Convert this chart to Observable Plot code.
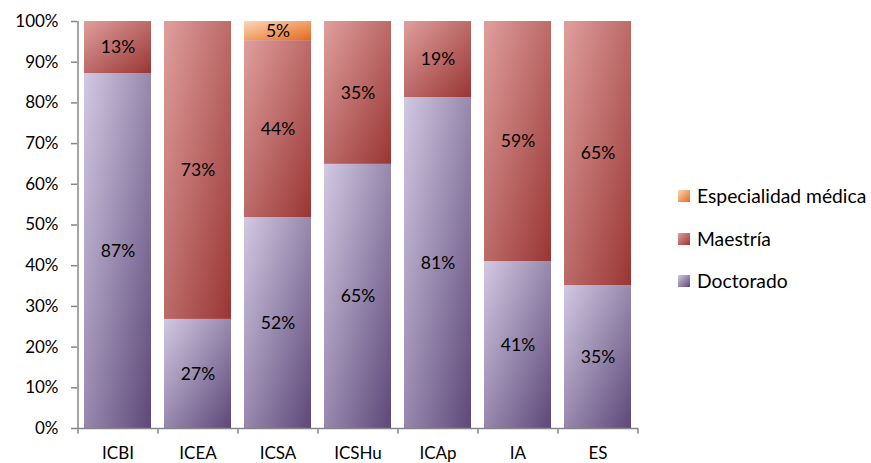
<!DOCTYPE html>
<html>
<head>
<meta charset="utf-8">
<script src="https://cdn.jsdelivr.net/npm/d3@7"></script>
<script src="https://cdn.jsdelivr.net/npm/@observablehq/plot@0.6"></script>
<style>
  body { margin: 0; background: #fff; }
  #wrap { position: relative; width: 871px; height: 463px; overflow: hidden; font-family: Lato, "Open Sans", sans-serif; }
  .leg { position: absolute; left: 678px; display: flex; align-items: center; font-size: 19.3px; color: #000; white-space: nowrap; line-height: 24px; }
  .sw { width: 12px; height: 12px; margin-right: 7px; }
</style>
</head>
<body>
<div id="wrap"></div>
<script>
const categories = ["ICBI", "ICEA", "ICSA", "ICSHu", "ICAp", "IA", "ES"];
const seriesNames = ["Doctorado", "Maestría", "Especialidad médica"];
const doctorado = [87.2, 26.8, 51.8, 64.9, 81.3, 41.0, 35.1];
const maestria = [12.8, 73.2, 43.5, 35.1, 18.7, 59.0, 64.9];
const especialidad = [0, 0, 4.7, 0, 0, 0, 0];
const labelsDoctorado = ["87%", "27%", "52%", "65%", "81%", "41%", "35%"];
const labelsMaestria = ["13%", "73%", "44%", "35%", "19%", "59%", "65%"];
const labelsEspecialidad = ["", "", "5%", "", "", "", ""];
const yTicks = [0, 10, 20, 30, 40, 50, 60, 70, 80, 90, 100];

const gradients = {
  "Doctorado": ["#d2c9e2", "#5d4879"],
  "Maestría": ["#df9f9d", "#993634"],
  "Especialidad médica": ["#fcd8b8", "#e36a1c"]
};
const gradIds = {"Doctorado": "gDoc", "Maestría": "gMae", "Especialidad médica": "gEsp"};

const rows = [];
categories.forEach((c, i) => {
  rows.push({cat: c, series: "Doctorado", value: doctorado[i], label: labelsDoctorado[i]});
  rows.push({cat: c, series: "Maestría", value: maestria[i], label: labelsMaestria[i]});
  rows.push({cat: c, series: "Especialidad médica", value: especialidad[i], label: labelsEspecialidad[i]});
});

const FONT = 17;
const gray = "#868686";

const plot = Plot.plot({
  width: 871,
  height: 463,
  marginLeft: 77,
  marginRight: 233,
  marginTop: 21,
  marginBottom: 35,
  style: {fontFamily: "Lato, 'Open Sans', sans-serif", fontSize: FONT + "px", color: "#000", background: "#fff"},
  x: {domain: categories, paddingInner: 0.1625, paddingOuter: 0.0875, axis: null, label: null},
  y: {domain: [0, 100], axis: null, label: null},
  color: {domain: seriesNames, range: seriesNames.map(s => `url(#${gradIds[s]})`)},
  marks: [
    Plot.barY(rows, Plot.stackY({x: "cat", y: "value", z: "series", fill: "series", order: null})),
    Plot.text(rows.filter(d => d.label), Plot.stackY({x: "cat", y: "value", z: "series", text: "label", order: null, fill: "#000", fontSize: 17.5})),
    Plot.axisY({ticks: yTicks, tickFormat: d => d + "%", tickSize: 6, tickPadding: 13, stroke: gray, fill: "#000", strokeWidth: 1.5, fontSize: FONT, label: null}),
    Plot.axisX({tickSize: 0, tickPadding: 18, fill: "#000", fontSize: FONT, label: null}),
    Plot.ruleY([0], {stroke: gray, strokeWidth: 1.5}),
    Plot.ruleX([categories[0]], {x: d => d, dx: -40, y1: 0, y2: 100, stroke: gray, strokeWidth: 1.5}),
    Plot.ruleX(categories, {x: d => d, dx: -40, y1: 0, y2: -1.4, stroke: gray, strokeWidth: 1.5}),
    Plot.ruleX([categories[categories.length - 1]], {x: d => d, dx: 40, y1: 0, y2: -1.4, stroke: gray, strokeWidth: 1.5})
  ]
});

let defs = "<defs>";
for (const s of seriesNames) {
  const [a, b] = gradients[s];
  defs += `<linearGradient id="${gradIds[s]}" x1="0" y1="0" x2="1" y2="1"><stop offset="0" stop-color="${a}"/><stop offset="1" stop-color="${b}"/></linearGradient>`;
}
defs += "</defs>";
plot.insertAdjacentHTML("afterbegin", defs);

const wrap = document.getElementById("wrap");
wrap.appendChild(plot);

const legendItems = ["Especialidad médica", "Maestría", "Doctorado"];
const legendTops = [184, 227, 269];
legendItems.forEach((s, i) => {
  const div = document.createElement("div");
  div.className = "leg";
  div.style.top = legendTops[i] + "px";
  const sw = document.createElement("div");
  sw.className = "sw";
  sw.style.background = `linear-gradient(135deg, ${gradients[s][0]}, ${gradients[s][1]})`;
  const t = document.createElement("span");
  t.textContent = s;
  div.appendChild(sw);
  div.appendChild(t);
  wrap.appendChild(div);
});
</script>
</body>
</html>
